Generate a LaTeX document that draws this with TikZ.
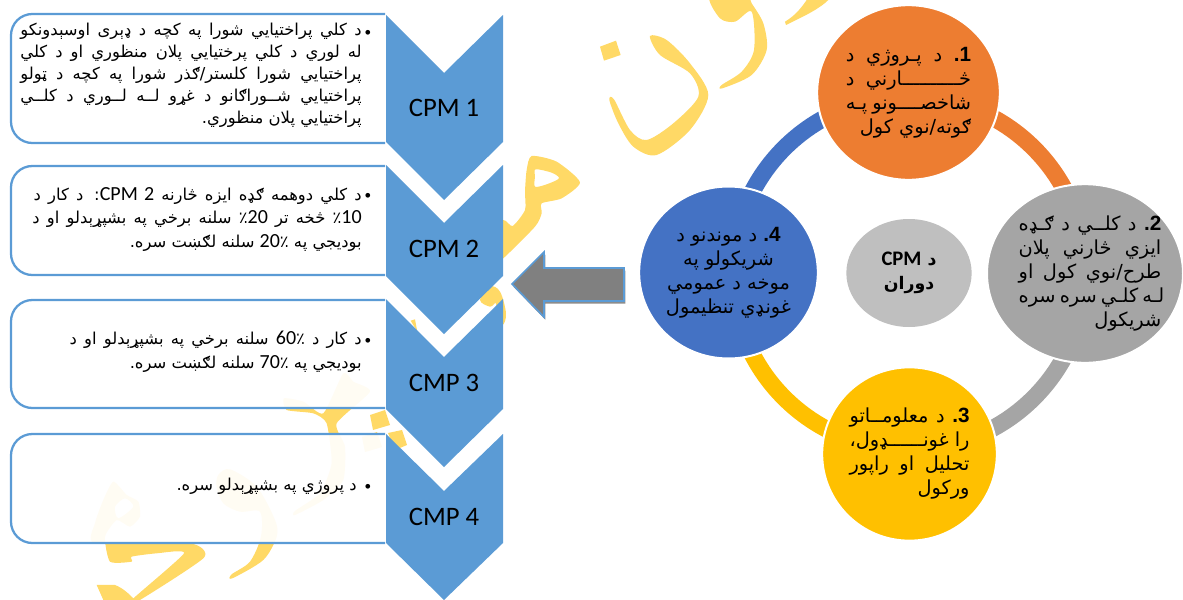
\documentclass[tikz,border=0pt]{standalone}
\usepackage{fontspec}
\usetikzlibrary{shapes.geometric}
\TeXXeTstate=1
\newfontfamily\arabicfont[Script=Arabic]{DejaVu Sans}
\newfontfamily\latf{Carlito}
\newfontfamily\boldf{Liberation Sans}
\definecolor{wm}{HTML}{FFD966}
\definecolor{chev}{HTML}{5B9BD5}
\definecolor{corange}{HTML}{ED7D31}
\definecolor{cgray}{HTML}{A5A5A5}
\definecolor{cyellow}{HTML}{FFC000}
\definecolor{cblue}{HTML}{4472C4}
\definecolor{ccent}{HTML}{BFBFBF}
\newcommand\jl[2]{\makebox[#1][s]{#2}}
\newcommand\rl[1]{\hbox{#1}}
\newcommand\nm[1]{\beginL{\latf\fontsize{15}{15}\selectfont #1}\endL{}}
\newcommand\bd[1]{\beginL{\boldf\bfseries\fontsize{15.5}{15}\selectfont #1}\endL{}}
\newcommand\chevpath[4]{\fill[chev] (386,#1) -- (444,#2) -- (503,#1) -- (503,#3) -- (444,#4) -- (386,#3) -- cycle;}
\newcommand\roundbox[2]{\draw[listbox] (385,#1) -- (11,#1) -- (11,#2) -- (385,#2);}
\tikzset{
  listbox/.style={draw=chev,line width=1.7pt,fill=white,fill opacity=.92,rounded corners=16pt},
  boxtext/.style={inner sep=0pt,anchor=north east,align=right,font=\arabicfont\fontsize{12.3}{16.5}\selectfont,text=black},
  bulletnode/.style={inner sep=0pt,font=\boldf\fontsize{13}{13}\selectfont},
  chevlabel/.style={inner sep=0pt,font=\latf\fontsize{20}{20}\selectfont,text=black},
  ringarc/.style={line width=12.75pt},
  stagecircle/.style={ellipse,draw=white,line width=1.5pt,inner sep=0pt,align=right,text=black,font=\arabicfont\fontsize{14.5}{18}\selectfont},
  stagetext/.style={inner sep=0pt,align=right,text=black,font=\arabicfont\fontsize{14.5}{18}\selectfont},
  wmark/.style={fill=wm,draw=none}
}
\begin{document}
\begin{tikzpicture}[x=0.75pt,y=-0.75pt]
\useasboundingbox (0,0) rectangle (1183,600);
% watermark
\begin{scope}[shift={(490,0)},scale=0.3333]
\fill[wmark] plot[smooth cycle,tension=.5] coordinates {(480,108)(530,120)(600,190)(655,285)(600,390)(500,465)(430,440)(385,370)(358,300)(372,298)(420,390)(470,420)(550,370)(625,290)(600,220)(510,165)};
\fill[wmark] (330,140) -- (378,122) -- (392,165) -- (342,182) -- cycle;
\end{scope}
\begin{scope}[shift={(680,0)},scale=0.3333]
\fill[wmark] plot[smooth cycle,tension=.5] coordinates {(127,265)(215,225)(260,150)(250,70)(215,10)(200,-10)(90,-10)(120,55)(165,65)(215,35)(222,150)(185,215)(125,255)};
\fill[wmark] (315,65) -- (318,75) .. controls (380,45) and (420,25) .. (445,0) -- (380,0) .. controls (360,30) and (340,50) .. (315,65) -- cycle;
\end{scope}
\begin{scope}[shift={(490,150)},scale=0.3333]
\fill[wmark,even odd rule] plot[smooth cycle,tension=.4] coordinates {(125,18)(200,35)(270,97)(215,145)(155,160)(155,190)(135,230)(40,325)(-10,360)(-10,240)(40,210)(68,228)(105,180)(105,125)(110,60)}
 plot[smooth cycle,tension=.5] coordinates {(137,58)(185,68)(207,85)(170,103)(135,110)(135,80)};
\fill[wmark] plot[smooth cycle,tension=.6] coordinates {(-30,450)(0,410)(30,425)(48,490)(38,525)(20,500)(18,460)(0,470)};
\end{scope}
\begin{scope}[shift={(380,280)},scale=0.3333]
\fill[wmark] (92,122) -- (105,118) -- (112,155) -- cycle;
\end{scope}
\begin{scope}[shift={(60,380)},scale=0.3333]
\fill[wmark] plot[smooth cycle,tension=.35] coordinates {(850,-20)(880,5)(930,35)(830,130)(855,200)(850,300)(790,360)(705,405)(705,393)(780,340)(815,250)(800,130)(760,100)(680,90)(672,55)(730,65)(790,100)};
\fill[wmark] plot[smooth cycle,tension=.5] coordinates {(475,285)(510,268)(590,320)(645,420)(650,470)(610,540)(517,595)(515,583)(570,545)(603,470)(600,395)(540,395)(490,370)(470,320)};
\fill[wmark,even odd rule] plot[smooth cycle,tension=.35] coordinates {(160,305)(200,345)(235,365)(240,410)(210,440)(170,420)(135,470)(150,545)(215,545)(215,530)(290,520)(372,520)(215,660)(240,660)(432,533)(390,490)(105,490)(105,430)(130,360)}
  plot[smooth cycle,tension=.5] coordinates {(165,380)(195,355)(220,380)(175,415)};
\fill[wmark] (110,615) -- (165,615) .. controls (190,625) and (205,640) .. (225,660) -- (130,660) -- cycle;
\end{scope}
\fill[wmark] (370,415) -- (385,410) -- (390,425) -- (373,430) -- cycle;
\fill[wmark] (388,433) -- (402,430) -- (407,445) -- (395,450) -- cycle;
\fill[wmark] (362,437) -- (377,432) -- (382,447) -- (365,452) -- cycle;
% list boxes
\roundbox{14}{143}
\roundbox{166}{275}
\roundbox{300}{408}
\roundbox{434}{543}
% chevrons
\chevpath{15}{73}{142}{200}
\chevpath{165}{223}{276}{334}
\chevpath{299}{357}{409}{467}
\chevpath{434}{491}{543}{600}
\node[chevlabel] (l1) at (444,108) {CPM 1};
\node[chevlabel] (l2) at (444,249) {CPM 2};
\node[chevlabel] (l3) at (444,383) {CMP 3};
\node[chevlabel] (l4) at (444,517) {CMP 4};
% list texts
\node[bulletnode] (b1) at (368,34) {•};
\node[bulletnode] (b2) at (368,197) {•};
\node[bulletnode] (b3) at (368,342) {•};
\node[bulletnode] (b4) at (368,488) {•};
\node[boxtext] (t1) at (362,23) {%
 \jl{256pt}{\beginR د کلي پراختیایي شورا په کچه د ډېری اوسېدونکو\endR}\\
 \jl{256pt}{\beginR له لوري د کلي پرختیایي پلان منظوري او د کلي\endR}\\
 \jl{256pt}{\beginR پراختیایي شورا کلستر/ګذر شورا په کچه د ټولو\endR}\\
 \jl{256pt}{\beginR پراختیایي شــوراګانو د غړو لــه لــوري د کلــي\endR}\\
 \rl{\beginR پراختیایي پلان منظوري.\endR}};
\node[boxtext,font=\arabicfont\fontsize{12.3}{17.6}\selectfont] (t2) at (362,187) {%
 \jl{246pt}{\beginR د کلي  دوهمه ګډه ایزه څارنه \beginL{\latf\fontsize{15}{15}\selectfont CPM 2}\endL{}: د کار د\endR}\\
 \jl{247pt}{\beginR \nm{10}٪ څخه تر \nm{20}٪ سلنه برخي په بشپړېدلو او د\endR}\\
 \rl{\beginR بودیجي په ٪\nm{20} سلنه لګښت سره.\endR}};
\node[boxtext,font=\arabicfont\fontsize{12.3}{18}\selectfont] (t3) at (362,331) {%
 \jl{219pt}{\beginR د کار د ٪\nm{60} سلنه برخي په بشپړېدلو او د\endR}\\
 \rl{\beginR بودیجي په ٪\nm{70} سلنه لګښت سره.\endR}};
\node[boxtext] (t4) at (357,478) {\rl{\beginR د پروژي په بشپړېدلو سره.\endR}};
% ring
\coordinate (ring) at (909,273);
\draw[ringarc,corange] (ring) ++(-90:176.5) arc[start angle=-90,end angle=0,radius=176.5];
\draw[ringarc,cgray] (ring) ++(0:176.5) arc[start angle=0,end angle=90,radius=176.5];
\draw[ringarc,cyellow] (ring) ++(90:176.5) arc[start angle=90,end angle=180,radius=176.5];
\draw[ringarc,cblue] (ring) ++(180:176.5) arc[start angle=180,end angle=270,radius=176.5];
% circles
\node[stagecircle,fill=corange,minimum width=137pt,minimum height=131pt] (c1) at (908.5,92.5) {%
 \jl{94pt}{\beginR\bd{.1} د پـروژي د\endR}\\
 \jl{94pt}{\beginR څــــــــــارني د\endR}\\
 \jl{94pt}{\beginR شاخصــــونو پـه\endR}\\
 \rl{\beginR ګوته/نوي کول\endR}};
\node[stagecircle,fill=cgray,minimum width=147pt,minimum height=134pt] (c2) at (1085,273.5) {};
\node[stagetext] (c2t) at (1090,273.5) {%
 \jl{107pt}{\beginR\bd{.2} د کلــي د ګـډه\endR}\\
 \jl{107pt}{\beginR ایزي څارني پلان\endR}\\
 \jl{107pt}{\beginR طرح/نوي کول او\endR}\\
 \jl{107pt}{\beginR لـه کلـي سره سره\endR}\\
 \rl{\beginR شریکول\endR}};
\node[stagecircle,fill=cyellow,minimum width=131pt,minimum height=130pt] (c3) at (909.5,454) {%
 \jl{90pt}{\beginR\bd{.3} د معلومــاتو\endR}\\
 \jl{90pt}{\beginR را غونــــــډول،\endR}\\
 \jl{90pt}{\beginR تحلیل او راپور\endR}\\
 \rl{\beginR ورکول\endR}};
\node[stagecircle,fill=cblue,align=center,minimum width=134pt,minimum height=129pt] (c4) at (728.5,272.5) {%
 \rl{\beginR\bd{.4} د موندنو د\endR}\\
 \rl{\beginR شریکولو په\endR}\\
 \rl{\beginR موخه د عمومي\endR}\\
 \rl{\beginR غونډي تنظیمول\endR}};
\node[ellipse,fill=ccent,inner sep=0pt,align=center,text=black,font=\arabicfont\bfseries\fontsize{13}{18}\selectfont,minimum width=94pt,minimum height=81pt] (cc) at (909,273) {%
 \rl{\beginR د \beginL{\latf\bfseries\fontsize{15.5}{15}\selectfont CPM}\endL{}\endR}\\
 \rl{\beginR دوران\endR}};
% arrow
\fill[black!45,xshift=1pt,yshift=-2pt] (512,284) -- (544,252) -- (544,268) -- (624,268) -- (624,301) -- (544,301) -- (544,317) -- cycle;
\draw[chev,fill=black!50,line width=1.2pt,line join=miter] (512,284) -- (544,252) -- (544,268) -- (624,268) -- (624,301) -- (544,301) -- (544,317) -- cycle;
\end{tikzpicture}
\end{document}
